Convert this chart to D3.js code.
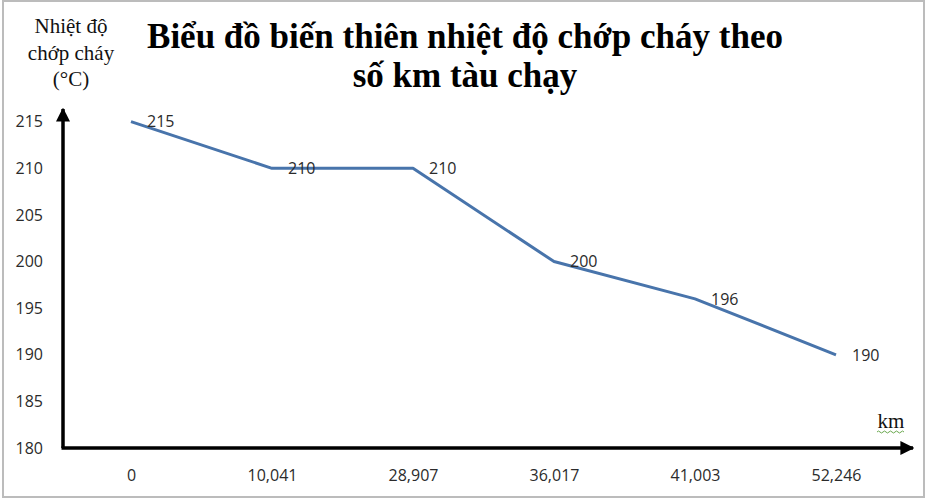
<!DOCTYPE html>
<html>
<head>
<meta charset="utf-8">
<script src="https://cdn.jsdelivr.net/npm/d3@7"></script>
<style>
  html, body { margin: 0; padding: 0; background: #fff; }
  svg { display: block; }
</style>
</head>
<body>
<div id="chart"></div>
<script>
// Distance run by the ship (km) and the flash point measured at each stage
const kmLabels = ["0", "10,041", "28,907", "36,017", "41,003", "52,246"];
const flashPoint = [215, 210, 210, 200, 196, 190];
const yTicks = [180, 185, 190, 195, 200, 205, 210, 215];
const titleLines = ["Biểu đồ biến thiên nhiệt độ chớp cháy theo", "số km tàu chạy"];
const yTitleLines = ["Nhiệt độ", "chớp cháy", "(°C)"];
const xUnit = "km";

const W = 930, H = 504;
const svg = d3.select("#chart").append("svg")
  .attr("width", W).attr("height", H);

// frame
svg.append("rect")
  .attr("x", 3).attr("y", 1).attr("width", 921).attr("height", 496)
  .attr("fill", "#fff").attr("stroke", "#bcbcbc").attr("stroke-width", 2);

const x = d3.scalePoint().domain(kmLabels).range([60.5, 906.5]).padding(0.5);
const y = d3.scaleLinear().domain([180, 215]).range([448, 121.7]);

const axisX0 = 63, axisY0 = 448;

// arrow markers for the axes
const defs = svg.append("defs");
defs.append("marker")
  .attr("id", "arrow")
  .attr("viewBox", "0 0 10 10")
  .attr("refX", 9).attr("refY", 5)
  .attr("markerWidth", 4).attr("markerHeight", 4)
  .attr("markerUnits", "strokeWidth")
  .attr("orient", "auto")
  .append("path").attr("d", "M0,0 L10,5 L0,10 Z").attr("fill", "#000");

// y axis labels
const yAxis = d3.axisLeft(y).tickValues(yTicks).tickSize(0).tickPadding(20);
const gy = svg.append("g").attr("transform", `translate(${axisX0},0)`).call(yAxis);
gy.select(".domain").remove();
gy.selectAll("text")
  .attr("font-family", "'Open Sans', sans-serif")
  .attr("font-size", 16).attr("fill", "#2b2b2b");

// x axis labels
const xAxis = d3.axisBottom(x).tickSize(0).tickPadding(22);
const gx = svg.append("g").attr("transform", `translate(0,${axisY0})`).call(xAxis);
gx.select(".domain").remove();
gx.selectAll("text")
  .attr("font-family", "'Open Sans', sans-serif")
  .attr("font-size", 16).attr("fill", "#2b2b2b");

// axis lines with arrow heads
svg.append("line")
  .attr("x1", axisX0).attr("y1", axisY0).attr("x2", axisX0).attr("y2", 109)
  .attr("stroke", "#000").attr("stroke-width", 3.5)
  .attr("marker-end", "url(#arrow)");
svg.append("line")
  .attr("x1", axisX0 - 1.5).attr("y1", axisY0).attr("x2", 913).attr("y2", axisY0)
  .attr("stroke", "#000").attr("stroke-width", 3.5)
  .attr("marker-end", "url(#arrow)");

// flash point line
const line = d3.line()
  .x((d, i) => x(kmLabels[i]))
  .y(d => y(d));
svg.append("path")
  .datum(flashPoint)
  .attr("d", line)
  .attr("fill", "none")
  .attr("stroke", "#4874ab")
  .attr("stroke-width", 3)
  .attr("stroke-linejoin", "round");

// value labels beside each point
svg.append("g").selectAll("text")
  .data(flashPoint)
  .join("text")
  .attr("x", (d, i) => x(kmLabels[i]) + 16)
  .attr("y", d => y(d))
  .attr("dy", "0.36em")
  .attr("font-family", "'Open Sans', sans-serif")
  .attr("font-size", 16).attr("fill", "#2b2b2b")
  .text(d => d);

// chart title
svg.append("g").selectAll("text")
  .data(titleLines)
  .join("text")
  .attr("x", 465)
  .attr("y", (d, i) => 48 + i * 39)
  .attr("text-anchor", "middle")
  .attr("font-family", "'Liberation Serif', 'Times New Roman', serif")
  .attr("font-weight", "bold")
  .attr("font-size", 35).attr("fill", "#000")
  .text(d => d);

// y axis title
svg.append("g").selectAll("text")
  .data(yTitleLines)
  .join("text")
  .attr("x", 71)
  .attr("y", (d, i) => 33 + i * 26.5)
  .attr("text-anchor", "middle")
  .attr("font-family", "'Liberation Serif', 'Times New Roman', serif")
  .attr("font-size", 21).attr("fill", "#111")
  .text(d => d);

// x unit label
const unit = svg.append("text")
  .attr("x", 891).attr("y", 428)
  .attr("text-anchor", "middle")
  .attr("font-family", "'Liberation Serif', 'Times New Roman', serif")
  .attr("font-size", 21).attr("fill", "#111")
  .text(xUnit);

// wavy underline beneath the unit
const wave = d3.path();
wave.moveTo(877, 432);
for (let k = 0; k < 9; k++) {
  const xs = 877 + k * 3;
  wave.quadraticCurveTo(xs + 1.5, k % 2 ? 434 : 430, xs + 3, 432);
}
svg.append("path").attr("d", wave.toString())
  .attr("fill", "none").attr("stroke", "#6aa84f").attr("stroke-width", 1);
</script>
</body>
</html>
